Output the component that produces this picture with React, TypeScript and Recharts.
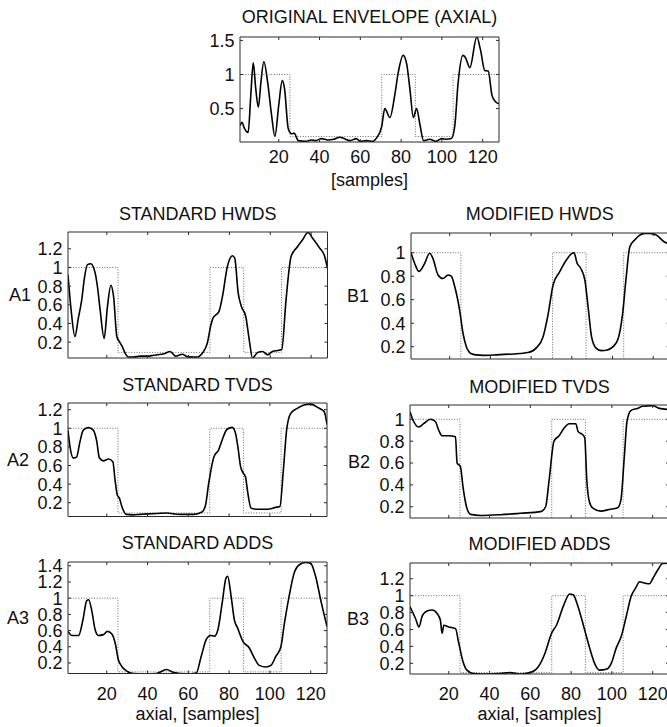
import React from "react";
import { LineChart, Line, XAxis, YAxis } from "recharts";

// ---------- data ----------
const sampleTicks = [20, 40, 60, 80, 100, 120];

const refX = [1, 25.5, 25.5, 70.5, 70.5, 87, 87, 105.5, 105.5, 128];
const refY = [1, 1, 0.09, 0.09, 1, 1, 0.09, 0.09, 1, 1];

const originalX = [1, 2, 3, 5, 6.3, 7.5, 8.7, 10, 11.3, 12.7, 14.5, 16.5, 18.1, 20, 21.7, 22.8, 24.7, 26.3, 27.5, 29.6, 33, 36, 38, 41, 44, 47, 50, 52, 55, 58, 60, 63, 66, 68, 70.5, 72, 74.5, 77, 78.6, 81, 82.7, 84.3, 86, 87.6, 89.2, 91, 94, 97, 100, 102, 104.6, 106.3, 107.9, 110.3, 111.5, 113.7, 117.1, 119, 121, 122.7, 124.6, 126.3, 128];
const originalY = [0.25, 0.3, 0.22, 0.15, 0.7, 1.17, 0.8, 0.52, 0.9, 1.19, 0.9, 0.4, 0.09, 0.55, 0.91, 0.8, 0.2, 0.13, 0.14, 0.03, 0.02, 0.04, 0.03, 0.06, 0.04, 0.05, 0.08, 0.06, 0.03, 0.06, 0.02, 0.03, 0.02, 0.07, 0.24, 0.5, 0.37, 0.72, 1.03, 1.28, 1.16, 0.79, 0.37, 0.5, 0.27, 0.03, 0.05, 0.02, 0.06, 0.05, 0.06, 0.24, 0.86, 1.28, 1.25, 1.1, 1.55, 1.35, 1.06, 1.05, 0.69, 0.6, 0.57];

const stdHwdsX = [1, 2.5, 4.4, 6, 7.7, 9, 10.5, 12.1, 14.3, 15.5, 16.7, 18.7, 20.3, 22, 23.3, 24.9, 26, 27.4, 29, 30.7, 33, 36.4, 40, 43, 45, 47.9, 51, 53.6, 56.9, 59.3, 62, 64.3, 66.7, 69.2, 70.8, 72, 73.3, 74.9, 76.6, 79, 81.5, 82.6, 84.3, 85.9, 88, 89.7, 91.3, 93.8, 96.2, 98.7, 101.1, 103.6, 105.6, 107.7, 110.2, 113.4, 115.9, 118.4, 120.8, 124.1, 126.6, 128];
const stdHwdsY = [0.92, 0.55, 0.26, 0.45, 0.65, 0.88, 1.03, 1.04, 0.94, 0.78, 0.55, 0.24, 0.58, 0.81, 0.69, 0.26, 0.21, 0.16, 0.08, 0.04, 0.04, 0.05, 0.05, 0.06, 0.065, 0.075, 0.1, 0.05, 0.07, 0.045, 0.04, 0.04, 0.08, 0.19, 0.37, 0.46, 0.49, 0.53, 0.69, 1.01, 1.125, 1.1, 0.725, 0.58, 0.475, 0.225, 0.03, 0.09, 0.1, 0.065, 0.1, 0.11, 0.12, 0.65, 1.12, 1.225, 1.3, 1.375, 1.31, 1.21, 1.12, 0.99];

const modHwdsX = [1, 3, 4.9, 6.5, 7.7, 10.2, 11.8, 14.3, 16.7, 19.2, 20.8, 22.5, 24.9, 26.6, 28.2, 30.7, 33, 36.4, 43, 51.1, 58.5, 62.6, 65.9, 68.4, 70.8, 74.1, 77.4, 79.8, 81.1, 82.6, 84.3, 86.4, 88, 89.7, 91.8, 94.6, 97, 100.3, 102.8, 104.9, 106.6, 108.5, 111, 113.4, 116, 118.4, 121.6, 125.7, 128];
const modHwdsY = [1.0, 0.9, 0.84, 0.87, 0.91, 0.995, 0.95, 0.81, 0.78, 0.81, 0.8, 0.71, 0.51, 0.31, 0.2, 0.14, 0.13, 0.126, 0.13, 0.138, 0.15, 0.19, 0.285, 0.48, 0.725, 0.84, 0.94, 0.99, 1.0, 0.91, 0.87, 0.77, 0.54, 0.285, 0.19, 0.166, 0.17, 0.2, 0.27, 0.47, 0.77, 1.05, 1.11, 1.15, 1.165, 1.165, 1.15, 1.09, 1.08];

const stdTvdsX = [1, 2, 3.6, 5.2, 6.9, 8.5, 11, 13.4, 15.1, 16.4, 18.4, 20.8, 23, 24.1, 25.2, 26.2, 27.4, 29.5, 33, 36.4, 40, 44.6, 49.5, 53, 56, 62.6, 66.7, 68.4, 70, 72.5, 74.9, 76.6, 79, 81.5, 83.1, 84.3, 85.6, 86.9, 88, 89.2, 90.8, 93.8, 98.7, 102.8, 104.9, 106.6, 108.2, 110.2, 113.4, 116.7, 120, 124.1, 126.6, 128];
const stdTvdsY = [0.98, 0.8, 0.68, 0.69, 0.86, 0.98, 1.007, 0.98, 0.86, 0.68, 0.65, 0.67, 0.64, 0.44, 0.28, 0.25, 0.16, 0.075, 0.07, 0.075, 0.08, 0.085, 0.09, 0.08, 0.075, 0.075, 0.1, 0.17, 0.41, 0.69, 0.77, 0.875, 0.99, 1.01, 0.95, 0.8, 0.59, 0.52, 0.48, 0.3, 0.14, 0.13, 0.13, 0.15, 0.16, 0.55, 0.98, 1.16, 1.215, 1.25, 1.26, 1.215, 1.18, 1.04];

const modTvdsX = [1, 2.8, 5.2, 7.7, 11, 13.4, 15.1, 16.7, 20, 23.3, 24.1, 25.7, 27, 28.7, 30.7, 35.6, 45.4, 55.2, 65.1, 67.5, 69.2, 71.6, 74.1, 76.6, 79, 82.3, 83.4, 85.6, 86.7, 87.7, 88.9, 90.5, 94.6, 98.7, 102.8, 104.4, 106.1, 107.4, 109.3, 112.6, 115.1, 120, 123.3, 128];
const modTvdsY = [1.07, 0.98, 0.93, 0.96, 1.0, 0.98, 0.9, 0.85, 0.85, 0.84, 0.6, 0.57, 0.38, 0.2, 0.13, 0.12, 0.127, 0.14, 0.155, 0.2, 0.44, 0.8, 0.85, 0.92, 0.96, 0.96, 0.89, 0.86, 0.83, 0.44, 0.25, 0.19, 0.16, 0.175, 0.19, 0.26, 0.66, 0.98, 1.08, 1.1, 1.12, 1.125, 1.1, 1.09];

const stdAddsX = [1, 2.9, 6.2, 8.3, 10.2, 11.1, 12.7, 14.3, 15.9, 18.4, 20.3, 22.4, 24.1, 25.7, 27.3, 29.8, 33, 39.5, 44.4, 49.3, 52.5, 59, 63.9, 66.3, 68.8, 70.9, 72.8, 74.5, 76.6, 78.5, 79.3, 81, 82.6, 84.2, 86.7, 89.9, 92.4, 94.8, 98, 100.5, 102.9, 105.4, 107, 109.4, 111.9, 114.3, 117.6, 120, 122.4, 124.9, 128];
const stdAddsY = [0.59, 0.54, 0.54, 0.73, 0.97, 0.98, 0.84, 0.61, 0.54, 0.55, 0.59, 0.56, 0.45, 0.24, 0.16, 0.1, 0.07, 0.065, 0.07, 0.12, 0.085, 0.065, 0.077, 0.28, 0.49, 0.54, 0.53, 0.61, 0.94, 1.25, 1.27, 1.02, 0.73, 0.63, 0.47, 0.385, 0.26, 0.17, 0.15, 0.17, 0.28, 0.4, 0.67, 1.02, 1.31, 1.41, 1.44, 1.43, 1.27, 0.98, 0.65];

const modAddsX = [1, 3.7, 5.4, 7, 9.4, 11.9, 14.3, 15.9, 16.7, 17.6, 20, 23.3, 24.9, 27, 28.9, 32.2, 40.3, 45, 50.1, 55, 59.8, 63.9, 67.2, 70.4, 72.8, 76.1, 79.3, 81, 83.4, 86.7, 89.1, 91.5, 94, 97.2, 99.7, 102.1, 104.6, 107, 109.4, 111.9, 113.5, 115.9, 118.4, 120, 122.4, 124.9, 128];
const modAddsY = [0.87, 0.73, 0.63, 0.76, 0.82, 0.83, 0.79, 0.71, 0.555, 0.65, 0.63, 0.61, 0.44, 0.22, 0.12, 0.08, 0.074, 0.08, 0.09, 0.074, 0.09, 0.16, 0.32, 0.555, 0.65, 0.87, 1.02, 1.01, 0.87, 0.59, 0.38, 0.2, 0.12, 0.13, 0.2, 0.38, 0.52, 0.75, 0.99, 1.1, 1.165, 1.15, 1.14, 1.2, 1.3, 1.38, 1.385];

const ticksTop = [0.5, 1, 1.5];
const ticks10 = [0.2, 0.4, 0.6, 0.8, 1];
const ticks12 = [0.2, 0.4, 0.6, 0.8, 1, 1.2];
const ticks14 = [0.2, 0.4, 0.6, 0.8, 1, 1.2, 1.4];

// ---------- layout / style ----------
const FONT = '"Liberation Sans", Arial, Helvetica, sans-serif';
const FS = 18;
const TXT = "#111";
const BOX = "#2a2a2a";
const TL = 3; // inward tick length
const LW = 50;
const MT = 4;
const MR = 4;

type PanelCfg = {
  title: string;
  label?: string;
  left: number;
  top: number;
  w: number;
  h: number;
  xs: number[];
  ys: number[];
  yDomain: [number, number];
  yTicks: number[];
  xLabel?: string;
  tickOff?: number;
  xLabelOff?: number;
  titleGap: number;
  labelRight?: number;
};

const panels: PanelCfg[] = [
  { title: "ORIGINAL ENVELOPE (AXIAL)", left: 240, top: 37, w: 259, h: 105, xs: originalX, ys: originalY, yDomain: [0.01, 1.55], yTicks: ticksTop, xLabel: "[samples]", tickOff: 21, xLabelOff: 44, titleGap: 14 },
  { title: "STANDARD HWDS", label: "A1", labelRight: 31, left: 68, top: 232, w: 259.5, h: 126, xs: stdHwdsX, ys: stdHwdsY, yDomain: [0.03, 1.38], yTicks: ticks12, titleGap: 12.5 },
  { title: "MODIFIED HWDS", label: "B1", labelRight: 369, left: 410.5, top: 233, w: 258.5, h: 126, xs: modHwdsX, ys: modHwdsY, yDomain: [0.095, 1.168], yTicks: ticks10, titleGap: 13 },
  { title: "STANDARD TVDS", label: "A2", labelRight: 29, left: 68, top: 403, w: 259, h: 113.5, xs: stdTvdsX, ys: stdTvdsY, yDomain: [0.052, 1.272], yTicks: ticks12, titleGap: 12 },
  { title: "MODIFIED TVDS", label: "B2", labelRight: 370, left: 410, top: 405, w: 259, h: 113, xs: modTvdsX, ys: modTvdsY, yDomain: [0.097, 1.131], yTicks: ticks10, titleGap: 12.5 },
  { title: "STANDARD ADDS", label: "A3", labelRight: 29, left: 68, top: 562, w: 259, h: 111.5, xs: stdAddsX, ys: stdAddsY, yDomain: [0.07, 1.447], yTicks: ticks14, xLabel: "axial, [samples]", tickOff: 26, xLabelOff: 46, titleGap: 13 },
  { title: "MODIFIED ADDS", label: "B3", labelRight: 369, left: 410, top: 563, w: 259, h: 111, xs: modAddsX, ys: modAddsY, yDomain: [0.074, 1.386], yTicks: ticks12, xLabel: "axial, [samples]", tickOff: 26, xLabelOff: 46, titleGap: 13 },
];

function Panel({ p }: { p: PanelCfg }) {
  const XH = p.xLabel ? 60 : 4;
  const chartW = LW + p.w + 1 + MR;
  const chartH = MT + 1 + p.h + XH;
  const curve = p.xs.map((x, i) => ({ x, y: p.ys[i] }));
  const ref = refX.map((x, i) => ({ x, y: refY[i] }));
  const showX = !!p.xLabel;

  const bottomTick = (t: any) => (
    <g>
      <line x1={t.x} y1={t.y} x2={t.x} y2={t.y - TL} stroke={BOX} strokeWidth={1} />
      {showX && (
        <text x={t.x} y={t.y + (p.tickOff || 0)} textAnchor="middle" fontSize={FS} fontFamily={FONT} fill={TXT}>
          {String(t.payload.value)}
        </text>
      )}
    </g>
  );
  const topTick = (t: any) => (
    <line x1={t.x} y1={t.y} x2={t.x} y2={t.y + TL} stroke={BOX} strokeWidth={1} />
  );
  const leftTick = (t: any) => (
    <g>
      <line x1={t.x} y1={t.y} x2={t.x + TL} y2={t.y} stroke={BOX} strokeWidth={1} />
      <text x={t.x - 5.5} y={t.y + 6.4} textAnchor="end" fontSize={FS} fontFamily={FONT} fill={TXT}>
        {String(t.payload.value)}
      </text>
    </g>
  );
  const rightTick = (t: any) => (
    <line x1={t.x} y1={t.y} x2={t.x - TL} y2={t.y} stroke={BOX} strokeWidth={1} />
  );

  return (
    <div style={{ position: "absolute", left: p.left - LW, top: p.top - MT - 1, width: chartW, height: chartH }}>
      <LineChart width={chartW} height={chartH} margin={{ top: MT, right: MR, bottom: 0, left: 0 }}>
        <XAxis xAxisId="b" dataKey="x" type="number" domain={[1, 128]} allowDataOverflow ticks={sampleTicks} interval={0} tickSize={0} tickMargin={0} height={XH} axisLine={{ stroke: BOX }} tick={bottomTick} />
        <XAxis xAxisId="t" orientation="top" dataKey="x" type="number" domain={[1, 128]} allowDataOverflow ticks={sampleTicks} interval={0} tickSize={0} tickMargin={0} height={1} axisLine={{ stroke: BOX }} tick={topTick} />
        <YAxis yAxisId="l" type="number" domain={p.yDomain} allowDataOverflow ticks={p.yTicks} interval={0} tickSize={0} tickMargin={0} width={LW} axisLine={{ stroke: BOX }} tick={leftTick} />
        <YAxis yAxisId="r" orientation="right" type="number" domain={p.yDomain} allowDataOverflow ticks={p.yTicks} interval={0} tickSize={0} tickMargin={0} width={1} axisLine={{ stroke: BOX }} tick={rightTick} />
        <Line xAxisId="t" yAxisId="r" data={ref} dataKey="y" type="linear" stroke="#6e6e6e" strokeWidth={1} strokeDasharray="1 1.6" dot={false} activeDot={false} isAnimationActive={false} />
        <Line xAxisId="b" yAxisId="l" data={curve} dataKey="y" type="monotone" stroke="#000" strokeWidth={1.6} dot={false} activeDot={false} isAnimationActive={false} />
      </LineChart>
    </div>
  );
}

export default function App() {
  return (
    <div style={{ position: "absolute", left: 0, top: 0, width: 667, height: 727, overflow: "hidden", background: "#fff" }}>
      {panels.map((p, i) => (
        <Panel key={i} p={p} />
      ))}
      <svg width={667} height={727} style={{ position: "absolute", left: 0, top: 0, pointerEvents: "none" }}>
        {panels.map((p, i) => (
          <g key={i} fontFamily={FONT} fontSize={FS} fill={TXT}>
            <text x={p.left + p.w / 2} y={p.top - p.titleGap} textAnchor="middle">{p.title}</text>
            {p.label && (
              <text x={p.labelRight} y={p.top + p.h / 2 + 6.4} textAnchor="end">{p.label}</text>
            )}
            {p.xLabel && (
              <text x={p.left + p.w / 2} y={p.top + p.h + (p.xLabelOff || 0)} textAnchor="middle">{p.xLabel}</text>
            )}
          </g>
        ))}
      </svg>
    </div>
  );
}
